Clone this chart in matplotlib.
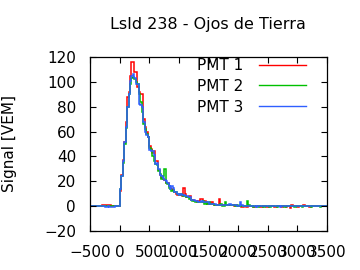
import numpy as np
import matplotlib
matplotlib.use("Agg")
import matplotlib.pyplot as plt

title = "LsId 238 - Ojos de Tierra"
ylabel = "Signal [VEM]"
labels = ["PMT 1", "PMT 2", "PMT 3"]
colors = ["#ff0000", "#00c000", "#2f5fff"]
bin_ns = 25
t_start = -500
t_stop = 3500
xticks = [-500, 0, 500, 1000, 1500, 2000, 2500, 3000, 3500]
yticks = [-20, 0, 20, 40, 60, 80, 100, 120]

# pre-trigger baseline, t = -500 .. -25
pre_r = [0, 0, 0, 0, 0, 0, 0, 0, 1, 1, 1, 1, 1, 1, 0.5, 0, 0, 0, 0, 0]
pre_g = [0, 0, 0, 0, 0.5, 0, 0, 0, 0, 0, 0, 0, 0, 0, 0, 0, 0, 0, 0, 0]
pre_b = [0, 0, 0, 0, 0, 0, 0, 0, 0, 0, -0.5, -0.5, 0, -0.5, -0.5, -0.5, -0.5, 0, 0, 0]

# pulse, t = 0 .. 2175
pulse_r = [12, 25, 37, 52, 68, 88, 92, 105, 116, 116, 108, 108, 96, 92, 90, 90,
           70, 64, 60, 56, 48, 46, 43, 44, 36, 36, 29, 25, 23, 22, 21, 19,
           19, 16, 15, 14, 13, 11, 10, 9, 9, 9, 8, 15, 10, 7, 7, 8,
           5, 5, 4, 4, 3, 4, 6, 6, 3, 4, 3, 2, 2, 2, 3, 2,
           1, 1, 1, 6, 1, 1, 1, 1, 1, 1, 1, 1,
           1, 0, 1, 0, 0, 0, -0.5, -0.5, 0, -0.5, -0.5, 0]
pulse_g = [14, 24, 35, 50, 63, 80, 90, 98, 103, 104, 102, 100, 98, 90, 84, 76,
           66, 62, 58, 56, 47, 45, 40, 36, 34, 33, 28, 26, 22, 24, 30, 19,
           18, 15, 14, 12, 13, 11, 11, 10, 9, 10, 9, 8, 8, 7, 7, 6,
           5, 4, 4, 3, 3, 3, 3, 3, 4, 2, 3, 2, 3, 2, 2, 2,
           1, 1, 1, 1, 2, 0, 0, 3, 1, 1, 1, 1,
           1, 1, 0, 1, 0, 1, 0, 0, 0, 0, 4, 1]
pulse_b = [14, 24, 36, 52, 64, 80, 90, 101, 105, 106, 103, 98, 98, 82, 81, 80,
           68, 60, 57, 56, 45, 44, 44, 41, 34, 35, 30, 25, 24, 23, 21, 20,
           19, 16, 14, 16, 15, 11, 11, 10, 9, 10, 9, 9, 8, 8, 7, 7,
           5, 5, 5, 4, 4, 3, 3, 4, 3, 3, 3, 3, 2, 2, 2, 2,
           2, 1, 1, 1, 1, 1, 1, 1, 1, 1, 2, 1,
           1, 1, 1, 0, 0, 3.5, 1, 0, 0, 0, 0, 0]

# tail baseline, t = 2200 .. 3475
tail_r = [0, 0, -0.5, -1, 0, 0, 0, -1, -1, 0, 0, -0.5, -1, 0, 0, 0,
          -1, -1, 0, 0, 0, -0.5, 0, 0, -1, 0, 0, -1.5, 1, 0, 0, 0,
          -0.5, 0, 0, 0, 1, 0, 0, 0, -0.5, 0, 0, 0, 0, 0.5, 0, 0,
          0, 0, 0, 0]
tail_g = [0, 0, -0.5, 0, 0, -0.5, 0, 0, 0, -0.5, 0, 0, 0, -0.5, 0, 0,
          0, 0, -0.5, 0, 0, 0, 0, -0.5, 0, 0, 0, 0, 0, 0, -0.5, 0,
          0, 0, 0, -0.5, 0, 0, 0, 0, 0, -0.5, 0, 0, 0, 0, 0, -0.5,
          0, 0, 0, 0.5]
tail_b = [0, 0, 0, 0, -0.5, 0, 0, 0.5, 0, 0, 0, 0.5, 0, 0, 0, 0,
          0, 0.5, 0, 0, -0.5, 0, 0, 0, 0, 0.5, 0, 0, 0, 0, 0, 0,
          0.5, 0, 0, 0, 0, 0, 0, 0.5, 0, 0, 0, 0, 0, 0, 0, 0,
          0, 0, 0, 0]

series = [pre_r + pulse_r + tail_r,
          pre_g + pulse_g + tail_g,
          pre_b + pulse_b + tail_b]

plt.rcParams['font.family'] = ['DejaVu Sans']
fig = plt.figure(figsize=(3.6, 2.7), dpi=100)
ax = fig.add_axes([90/360, 1 - 231/270, 237/360, 174/270])

for vals, col, lab in zip(series, colors, labels):
    vals = np.asarray(vals, dtype=float)
    edges = t_start + bin_ns * np.arange(len(vals) + 1)
    ax.stairs(vals, edges, color=col, lw=1.1, label=lab, baseline=None)

ax.set_xlim(t_start, t_stop)
ax.set_ylim(-20, 120)
ax.set_xticks(xticks)
ax.set_yticks(yticks)
ax.tick_params(direction='in', length=4, width=0.8, top=True, right=True,
               labelsize=11)
ax.tick_params(axis='x', pad=10)
ax.tick_params(axis='y', pad=10)
for s in ax.spines.values():
    s.set_linewidth(0.9)

fig.text(208/360, 1 - 25/270, title, ha='center', va='center', fontsize=11.5)
fig.text(10/360, 1 - 144/270, ylabel, ha='center', va='center',
         rotation=90, fontsize=11)

leg = ax.legend(loc='upper right', bbox_to_anchor=(306/360, 1 - 58/270),
                bbox_transform=fig.transFigure, frameon=False, markerfirst=False,
                fontsize=11, handlelength=3.1, handletextpad=1.0,
                borderpad=0, borderaxespad=0, labelspacing=0.38)
for h in leg.get_lines():
    h.set_linewidth(1.0)

fig.savefig("out.png", dpi=100)
